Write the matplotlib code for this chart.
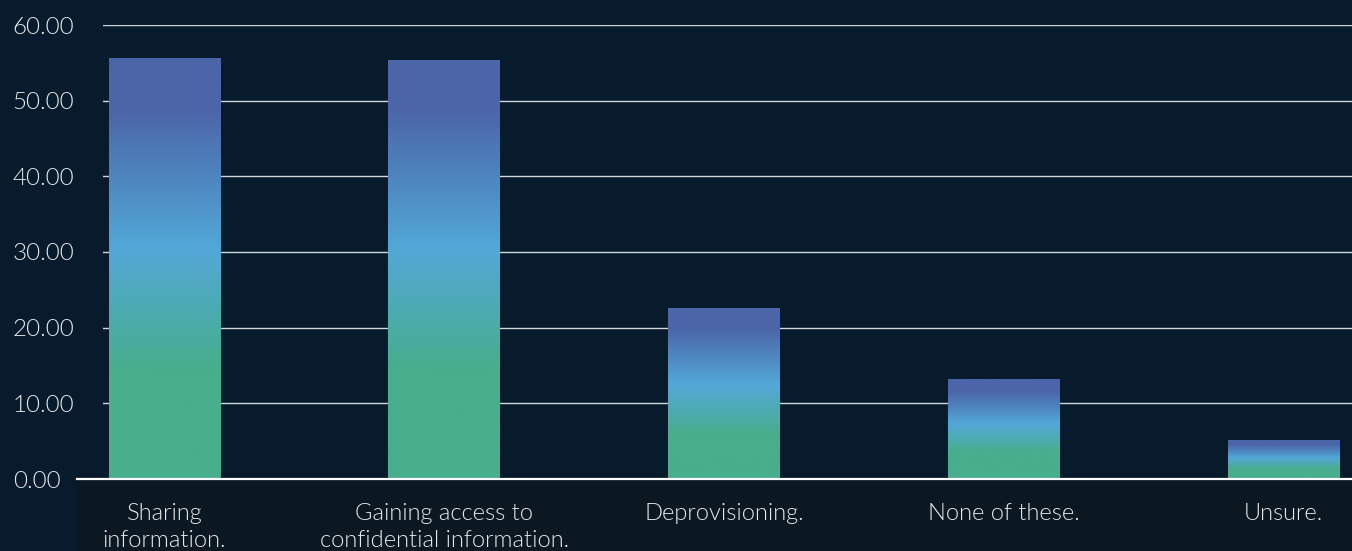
import numpy as np
import matplotlib.pyplot as plt
from matplotlib.colors import LinearSegmentedColormap
from matplotlib.patches import Rectangle
from matplotlib.transforms import blended_transform_factory

categories = ["Sharing\ninformation.", "Gaining access to\nconfidential information.",
              "Deprovisioning.", "None of these.", "Unsure."]
values = [55.6, 55.4, 22.6, 13.2, 5.1]
yticks = [0, 10, 20, 30, 40, 50, 60]

BG = "#071b2c"
BAND = "#0c1821"
TEXT = "#e6e9ec"

plt.rcParams['font.family'] = ['Lato', 'DejaVu Sans']

# green at the base, light blue in the middle, dark blue at the top
grad = LinearSegmentedColormap.from_list("bar", [
    (0.0, "#48ae8c"), (0.26, "#48ae8c"), (0.55, "#52a8d8"),
    (0.88, "#4b65a8"), (1.0, "#4b65a8")])

fig = plt.figure(figsize=(13.52, 5.51), dpi=100, facecolor=BG)

# darker band behind the category labels
fig.patches.append(Rectangle((77/1352, 0), 1 - 77/1352, 1 - 479/551,
                             transform=fig.transFigure, facecolor=BAND,
                             edgecolor="none", zorder=-1))

ax = fig.add_axes([103/1352, 1 - 479/551, 1 - 103/1352, (479 - 25)/551])
ax.set_zorder(1)
ax.set_facecolor(BG)

x = np.arange(len(categories))
bars = ax.bar(x, values, width=0.40, color="none", zorder=3)
ramp = np.linspace(0, 1, 256).reshape(-1, 1)
for b in bars:
    x0, y0 = b.get_x(), b.get_y()
    im = ax.imshow(ramp, cmap=grad, origin="lower", aspect="auto",
                   extent=[x0, x0 + b.get_width(), y0, y0 + b.get_height()],
                   zorder=3)
    im.set_clip_path(b)

ax.set_xlim(-0.22, 4.245)
ax.set_ylim(0, 60)
ax.set_yticks(yticks)
ax.set_yticklabels([f"{v:.2f}" for v in yticks])
for v in yticks[1:]:
    ax.axhline(v, color="#cfd6dc", lw=1.0, zorder=1)

# baseline reaches out over the label band
tr = blended_transform_factory(fig.transFigure, ax.transData)
ax.plot([77/1352, 1], [0, 0], color="white", lw=1.6, transform=tr,
        clip_on=False, zorder=4)

ax.set_xticks(x)
ax.set_xticklabels(categories, linespacing=1.35)
ax.tick_params(axis="x", length=0, pad=17, labelsize=17, labelcolor=TEXT)
# y labels are left-aligned at the figure edge
ax.tick_params(axis="y", length=0, pad=65, labelsize=17.5, labelcolor=TEXT)
for lab in ax.get_yticklabels():
    lab.set_horizontalalignment("left")
for lab in ax.get_xticklabels() + ax.get_yticklabels():
    lab.set_fontweight(300)
for s in ax.spines.values():
    s.set_visible(False)

fig.savefig("out.png", dpi=100, facecolor=BG)
